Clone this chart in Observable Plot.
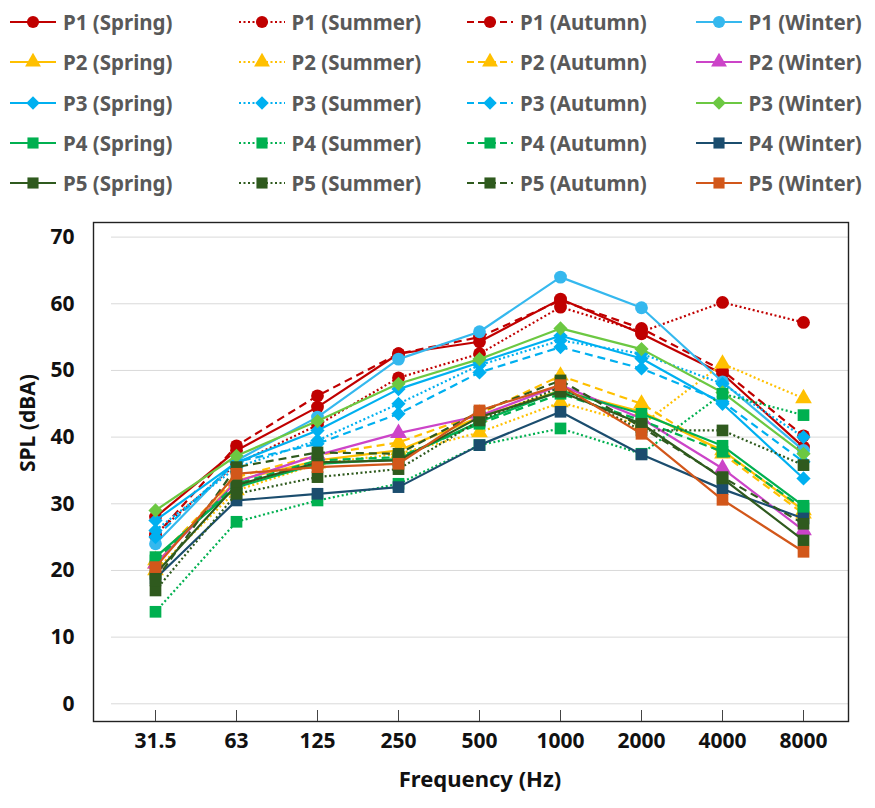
<!DOCTYPE html>
<html>
<head>
<meta charset="utf-8">
<script src="https://cdn.jsdelivr.net/npm/d3@7"></script>
<script src="https://cdn.jsdelivr.net/npm/@observablehq/plot@0.6"></script>
<style>
  html, body { margin: 0; padding: 0; background: #fff; }
  body { width: 875px; height: 808px; overflow: hidden; font-family: "Noto Sans", sans-serif; }
  #legend { position: relative; width: 875px; height: 210px; }
  .item { position: absolute; display: flex; align-items: center; height: 20px; }
  .item span { font-weight: bold; font-size: 20.5px; color: #595959; margin-left: 7px; white-space: nowrap; }
  #chart svg { display: block; }
</style>
</head>
<body>
<div id="legend"></div>
<div id="chart"></div>
<script>
// ---- data ----
const freqs = ["31.5", "63", "125", "250", "500", "1000", "2000", "4000", "8000"];
const seasons = ["Spring", "Summer", "Autumn", "Winter"];
const points = ["P1", "P2", "P3", "P4", "P5"];

const p1Spring = [28.0, 38.0, 44.5, 52.5, 54.3, 60.7, 55.5, 49.5, 38.5];
const p1Summer = [25.5, 36.0, 41.8, 48.9, 52.5, 59.5, 55.8, 60.2, 57.2];
const p1Autumn = [25.2, 38.7, 46.2, 52.5, 55.0, 60.5, 56.3, 50.0, 40.2];
const p1Winter = [24.0, 36.5, 43.0, 51.7, 55.8, 64.0, 59.4, 48.3, 38.0];

const p2Spring = [21.0, 33.5, 36.5, 38.0, 43.0, 47.0, 43.8, 38.0, 29.0];
const p2Summer = [20.0, 32.0, 36.0, 37.5, 40.7, 45.2, 41.8, 51.0, 45.8];
const p2Autumn = [21.5, 34.0, 37.3, 39.2, 43.5, 49.2, 45.0, 37.5, 28.5];
const p2Winter = [21.0, 33.3, 37.3, 40.6, 43.2, 47.8, 42.8, 35.3, 26.0];

const p3Spring = [27.5, 36.2, 41.0, 47.2, 51.2, 55.2, 51.8, 45.0, 33.8];
const p3Summer = [26.0, 35.5, 39.5, 45.0, 50.8, 54.5, 52.5, 48.0, 40.0];
const p3Autumn = [25.0, 36.3, 39.0, 43.5, 49.7, 53.5, 50.3, 45.3, 36.3];
const p3Winter = [29.0, 37.2, 42.4, 48.0, 51.7, 56.3, 53.2, 46.7, 37.5];

const p4Spring = [22.0, 32.5, 36.0, 36.7, 42.3, 47.0, 43.5, 38.7, 29.7];
const p4Summer = [13.8, 27.3, 30.5, 33.0, 38.8, 41.3, 37.5, 46.5, 43.3];
const p4Autumn = [21.5, 33.0, 36.5, 37.0, 42.0, 46.5, 42.5, 37.8, 29.3];
const p4Winter = [18.8, 30.5, 31.5, 32.5, 38.8, 43.8, 37.4, 32.2, 27.8];

const p5Spring = [19.5, 32.8, 36.2, 36.5, 43.0, 46.8, 42.0, 33.8, 24.5];
const p5Summer = [17.0, 31.5, 34.0, 35.2, 42.5, 47.5, 41.0, 41.0, 35.8];
const p5Autumn = [18.5, 35.5, 37.7, 37.5, 43.8, 48.5, 41.5, 34.0, 27.0];
const p5Winter = [20.5, 34.5, 35.5, 36.0, 44.0, 47.8, 40.5, 30.6, 22.8];

const yTicks = [0, 10, 20, 30, 40, 50, 60, 70];

const values = {
  P1: [p1Spring, p1Summer, p1Autumn, p1Winter],
  P2: [p2Spring, p2Summer, p2Autumn, p2Winter],
  P3: [p3Spring, p3Summer, p3Autumn, p3Winter],
  P4: [p4Spring, p4Summer, p4Autumn, p4Winter],
  P5: [p5Spring, p5Summer, p5Autumn, p5Winter]
};

// ---- styles ----
const baseColor = { P1: "#C00000", P2: "#FFC000", P3: "#00B0F0", P4: "#00B050", P5: "#2F5A1E" };
const winterColor = { P1: "#35B8EE", P2: "#CC44C8", P3: "#6CC842", P4: "#1B4D6E", P5: "#D2571A" };
const symbolOf = { P1: "circle", P2: "triangle", P3: "diamond2", P4: "square", P5: "square" };
const rOf = { circle: 6.4, triangle: 6.2, diamond2: 6.4, square: 6.6 };
const dashOf = { Spring: null, Summer: "2,2.5", Autumn: "8,5", Winter: null };

const series = [];
points.forEach(p => seasons.forEach((s, i) => {
  series.push({
    key: `${p} (${s})`,
    color: s === "Winter" ? winterColor[p] : baseColor[p],
    dash: dashOf[s],
    symbol: symbolOf[p],
    data: freqs.map((f, j) => ({ freq: f, value: values[p][i][j] }))
  });
}));

// ---- legend (HTML) ----
const legend = d3.select("#legend");
const legendOrder = [];
points.forEach(p => seasons.forEach(s => legendOrder.push(`${p} (${s})`)));
legendOrder.forEach((k, idx) => {
  const srs = series.find(d => d.key === k);
  const row = Math.floor(idx / 4), col = idx % 4;
  const item = legend.append("div").attr("class", "item")
    .style("left", (10 + col * 228.5) + "px")
    .style("top", (12 + row * 40.3) + "px");
  const sv = item.append("svg").attr("width", 46).attr("height", 20);
  sv.append("line").attr("x1", 0).attr("x2", 46).attr("y1", 10).attr("y2", 10)
    .attr("stroke", srs.color).attr("stroke-width", 2.2).attr("stroke-linecap", "butt")
    .attr("stroke-dasharray", srs.dash ? (srs.dash === "8,5" ? "7,4" : "2,2.5") : null);
  const symMap = { circle: d3.symbolCircle, triangle: d3.symbolTriangle, diamond2: d3.symbolDiamond2, square: d3.symbolSquare };
  const rr = rOf[srs.symbol] * 0.95;
  sv.append("path").attr("transform", "translate(23,10)")
    .attr("d", d3.symbol(symMap[srs.symbol], Math.PI * rr * rr)())
    .attr("fill", srs.color);
  item.append("span").text(k);
});

// ---- chart ----
const marks = [
  Plot.gridY(yTicks, { stroke: "#D9D9D9", strokeOpacity: 1, strokeWidth: 1, insetLeft: 18 }),
  Plot.frame({ stroke: "#222", strokeWidth: 1.4 })
];
series.forEach(s => {
  marks.push(Plot.line(s.data, { x: "freq", y: "value", stroke: s.color, strokeWidth: 2.2, strokeDasharray: s.dash, strokeLinecap: "butt", strokeLinejoin: "round" }));
  marks.push(Plot.dot(s.data, { x: "freq", y: "value", symbol: () => s.symbol, fill: s.color, r: rOf[s.symbol], stroke: "none" }));
});
marks.push(
  Plot.axisY(yTicks, { tickSize: 0, tickPadding: 19, fontSize: 21, fontWeight: "bold", fill: "#111", label: null }),
  Plot.axisX(freqs, { tickSize: 11, dy: -11, tickPadding: 12, fontSize: 21, fontWeight: "bold", fill: "#111", stroke: "#444", label: null }),
  Plot.text(["SPL (dBA)"], { frameAnchor: "left", dx: -65, rotate: -90, fontSize: 21, fontWeight: "bold", fill: "#111" }),
  Plot.text(["Frequency (Hz)"], { frameAnchor: "bottom", dx: 9, dy: 65, fontSize: 22, fontWeight: "bold", fill: "#111" })
);

const chart = Plot.plot({
  width: 875,
  height: 598,
  marginTop: 12,
  marginBottom: 87,
  marginLeft: 93,
  marginRight: 27,
  style: { fontFamily: "Noto Sans, sans-serif", overflow: "visible" },
  x: { type: "point", domain: freqs, padding: 0, insetLeft: 58.7, insetRight: 41 },
  y: { domain: [0, 70], insetTop: 14.6, insetBottom: 17.7 },
  symbol: { type: "identity" },
  marks
});
document.getElementById("chart").appendChild(chart);
</script>
</body>
</html>
